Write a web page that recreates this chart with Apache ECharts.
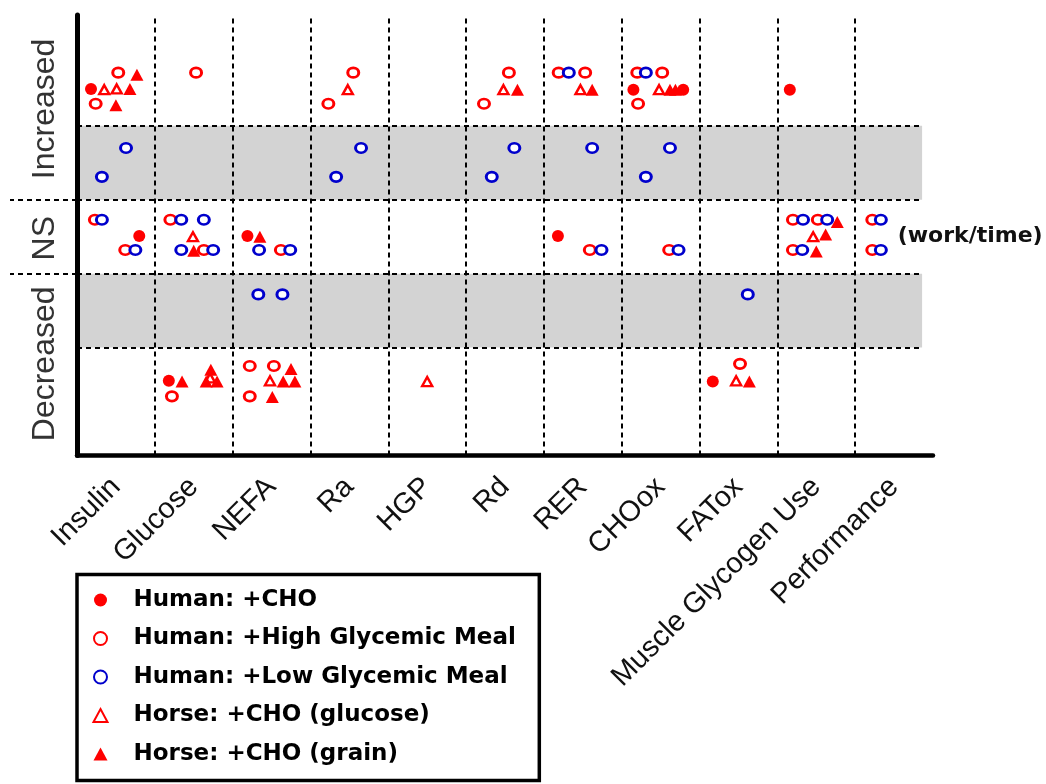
<!DOCTYPE html>
<html><head><meta charset="utf-8">
<script src="https://cdn.jsdelivr.net/npm/echarts@6/dist/echarts.min.js"></script>
<style>html,body{margin:0;padding:0;background:#fff}#c{width:1046px;height:784px}</style>
</head><body><div id="c"></div>
<script>
// ---------- data ----------
const categories = ['Insulin','Glucose','NEFA','Ra','HGP','Rd','RER','CHOox','FATox','Muscle Glycogen Use','Performance'];
const levelNames = ['Decreased','NS','Increased'];
const levelLabelPos = [1.28, 2.98, 4.73];
const bandEdges = [1.5, 2.5, 3.5, 4.5];
const greyBands = [[1.5, 2.5], [3.5, 4.5]];
const seriesNames = ['Human: +CHO','Human: +High Glycemic Meal','Human: +Low Glycemic Meal','Horse: +CHO (glucose)','Horse: +CHO (grain)'];
const performanceNote = '(work/time)';
const noteAnchor = [10, 0.04, 3.0];
// each point: [category index, offset inside category, level value]
const humanCHO = [[0,-0.32,5.0],[0,0.30,3.01],[1,-0.32,1.05],[2,-0.31,3.01],[6,-0.32,3.01],[7,-0.35,4.99],[7,0.29,4.99],[8,-0.33,1.04],[9,-0.34,4.99]];
const humanHighGI = [[0,0.03,5.22],[0,-0.26,4.80],[0,-0.27,3.23],[0,0.12,2.82],[1,0.03,5.22],[1,-0.30,3.23],[1,0.13,2.82],[1,-0.28,0.84],[2,0.12,2.82],[2,-0.28,1.25],[2,0.03,1.25],[2,-0.28,0.84],[3,-0.27,4.80],[3,0.05,5.22],[5,0.05,5.22],[5,-0.27,4.80],[6,-0.31,5.22],[6,0.03,5.22],[6,0.09,2.82],[7,-0.30,5.22],[7,0.02,5.22],[7,-0.29,4.80],[7,0.11,2.82],[8,0.02,1.28],[9,-0.30,3.23],[9,0.02,3.23],[9,-0.30,2.82],[10,-0.28,3.23],[10,-0.28,2.82]];
const humanLowGI = [[0,0.13,4.20],[0,-0.18,3.81],[0,-0.18,3.23],[0,0.25,2.82],[1,-0.16,3.23],[1,0.13,3.23],[1,-0.16,2.82],[1,0.25,2.82],[2,-0.16,2.82],[2,0.24,2.82],[2,-0.17,2.22],[2,0.14,2.22],[3,0.15,4.20],[3,-0.17,3.81],[5,0.12,4.20],[5,-0.17,3.81],[6,-0.18,5.22],[6,0.12,4.20],[6,0.24,2.82],[7,-0.19,5.22],[7,0.12,4.20],[7,-0.19,3.81],[7,0.23,2.82],[8,0.12,2.22],[9,-0.17,3.23],[9,0.14,3.23],[9,-0.18,2.82],[10,-0.17,3.23],[10,-0.17,2.82]];
const horseGlucose = [[0,-0.15,4.99],[0,0.01,5.0],[1,-0.01,3.0],[1,0.21,1.09],[2,-0.02,1.05],[3,-0.02,4.99],[4,0.0,1.04],[5,-0.02,4.99],[6,-0.03,4.99],[7,-0.02,4.99],[8,-0.03,1.05],[9,-0.04,3.0]];
const horseGrain = [[0,0.18,5.0],[0,0.27,5.19],[0,0.0,4.78],[1,0.0,2.81],[1,-0.15,1.04],[1,0.22,1.2],[1,0.16,1.04],[1,0.30,1.04],[2,-0.15,3.0],[2,0.01,0.83],[2,0.25,1.21],[2,0.15,1.04],[2,0.30,1.04],[5,0.16,4.99],[6,0.12,4.99],[7,0.12,4.99],[7,0.19,4.99],[8,0.14,1.04],[9,0.27,3.2],[9,0.12,3.03],[9,0.0,2.8]];

// ---------- chart ----------
const nCat = categories.length;
const toXY = arr => arr.map(p => [p[0] + 0.5 + p[1], p[2]]);
const boundaries = categories.slice(1).map((_, i) => i + 1);
const bandEnd = 10.86;
const RED = '#ff0000', BLUE = '#0000cc';
const dash = {color: '#000', width: 2, type: [5, 4]};

const chart = echarts.init(document.getElementById('c'), null, {renderer: 'canvas'});
const scatterBase = {type: 'scatter', xAxisIndex: 1, z: 10, emphasis: {disabled: true}};
const option = {
  animation: false,
  backgroundColor: '#fff',
  grid: {left: 77, right: 113, top: 15, bottom: 328.5, containLabel: false},
  xAxis: [
    {type: 'category', data: categories, boundaryGap: true, position: 'bottom', z: 20,
     axisLine: {lineStyle: {color: '#000', width: 4.5}},
     axisTick: {alignWithLabel: true, length: 8, lineStyle: {color: '#000', width: 4.5}},
     axisLabel: {rotate: 45, interval: 0, margin: 27, fontSize: 29, fontFamily: 'Liberation Sans', color: '#111'},
     splitLine: {show: false}},
    {type: 'value', min: 0, max: nCat, position: 'bottom', show: false}
  ],
  yAxis: {type: 'value', min: 0.04, max: 6, z: 20,
    axisLine: {show: true, lineStyle: {color: '#000', width: 5}},
    axisTick: {show: true, customValues: bandEdges.slice(1, 3), length: 67, lineStyle: dash},
    axisLabel: {show: true, customValues: levelLabelPos, rotate: 90, margin: 16, fontSize: 32,
      fontFamily: 'Liberation Sans', color: '#333',
      formatter: v => {
        let best = 0;
        levelLabelPos.forEach((p, i) => { if (Math.abs(p - v) < Math.abs(levelLabelPos[best] - v)) best = i; });
        return levelNames[best];
      }},
    splitLine: {show: false}},
  legend: {
    data: seriesNames, orient: 'vertical', left: 77, top: 574.5,
    padding: [12.5, 23.5, 13.5, 15.5], itemWidth: 14, itemHeight: 13, itemGap: 12.5,
    backgroundColor: '#fff', borderColor: '#000', borderWidth: 3.5, borderRadius: 0,
    selectedMode: false,
    textStyle: {fontFamily: 'DejaVu Sans', fontWeight: 'bold', fontSize: 23, lineHeight: 26, color: '#000', padding: [0, 0, 0, 21]}
  },
  series: [
    {type: 'scatter', name: 'frame', xAxisIndex: 1, data: [], z: 1, silent: true,
     markArea: {silent: true, itemStyle: {color: '#d3d3d3', opacity: 1},
       data: greyBands.map(b => [{coord: [0, b[0]]}, {coord: [bandEnd, b[1]]}])},
     markLine: {silent: true, symbol: ['none', 'none'], label: {show: false}, lineStyle: dash,
       data: boundaries.map(b => ({xAxis: b})).concat(bandEdges.map(e => [{coord: [0, e]}, {coord: [bandEnd, e]}]))},
     markPoint: {silent: true, symbol: 'circle', symbolSize: 1, itemStyle: {color: 'rgba(0,0,0,0)'},
       label: {show: true, position: 'right', distance: 0, formatter: performanceNote,
         fontFamily: 'DejaVu Sans', fontWeight: 'bold', fontSize: 22, color: '#111'},
       data: [{coord: [noteAnchor[0] + 0.5 + noteAnchor[1], noteAnchor[2]]}]}
    },
    Object.assign({}, scatterBase, {name: seriesNames[0], data: toXY(humanCHO), symbol: 'circle', symbolSize: 12,
      itemStyle: {color: RED, opacity: 1}}),
    Object.assign({}, scatterBase, {name: seriesNames[1], data: toXY(humanHighGI), symbol: 'circle', symbolSize: [11, 9.5],
      itemStyle: {color: '#fff', borderColor: RED, borderWidth: 2.8, opacity: 1}}),
    Object.assign({}, scatterBase, {name: seriesNames[2], data: toXY(humanLowGI), symbol: 'circle', symbolSize: [11, 9.5],
      itemStyle: {color: '#fff', borderColor: BLUE, borderWidth: 2.8, opacity: 1}}),
    Object.assign({}, scatterBase, {name: seriesNames[3], data: toXY(horseGlucose), symbol: 'triangle', symbolSize: [10, 9],
      itemStyle: {color: '#fff', borderColor: RED, borderWidth: 2.4, opacity: 1}}),
    Object.assign({}, scatterBase, {name: seriesNames[4], data: toXY(horseGrain), symbol: 'triangle', symbolSize: [13, 12],
      itemStyle: {color: RED, opacity: 1}})
  ]
};
chart.setOption(option);
</script></body></html>
